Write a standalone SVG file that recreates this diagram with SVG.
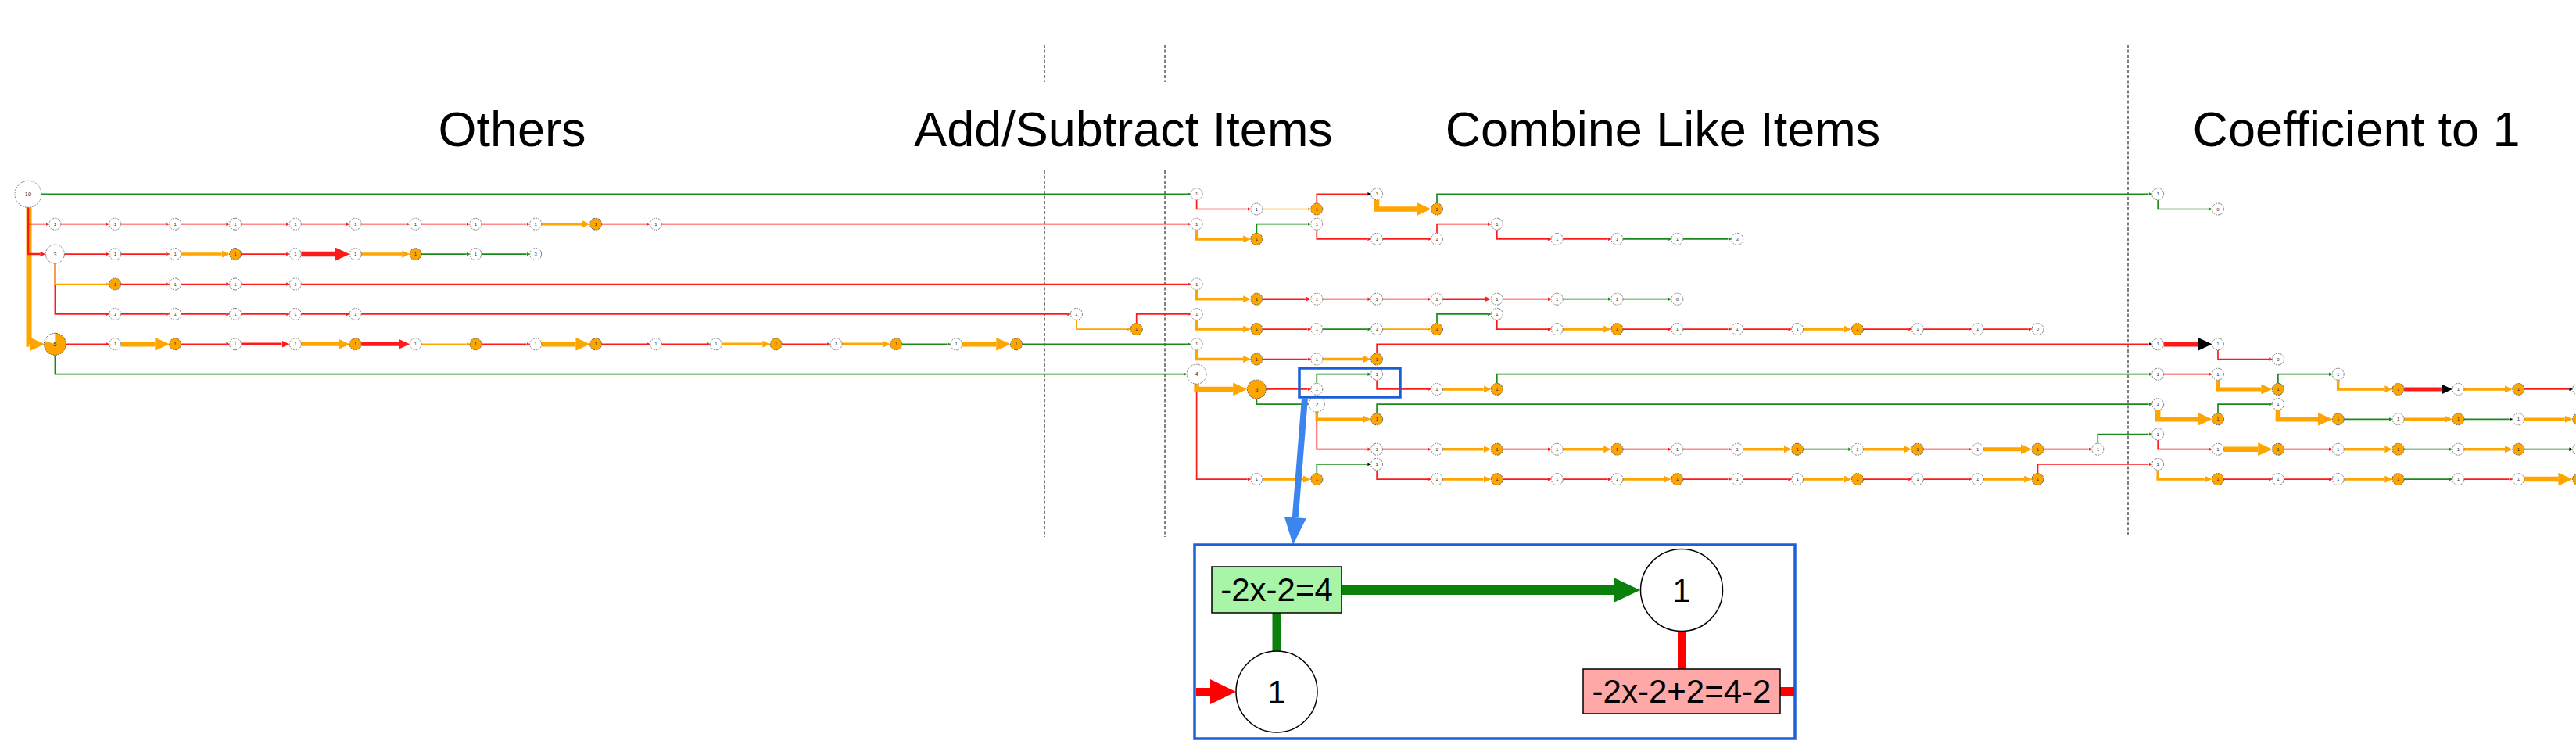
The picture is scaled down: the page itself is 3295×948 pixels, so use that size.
<svg xmlns="http://www.w3.org/2000/svg" width="3295" height="948" viewBox="0 0 3295 948">
<style>
.e path{fill:none}
.r{stroke:#ff1a1a;marker-end:url(#aR)}
.g{stroke:#1a8a1a;marker-end:url(#aG)}
.o{stroke:#ffa500;marker-end:url(#aO)}
.rk{stroke:#ff1a1a;marker-end:url(#aK)}
.gk{stroke:#1a8a1a;marker-end:url(#aK)}
.w1{stroke-width:1.7}.w2{stroke-width:2.5}.w3{stroke-width:3.5}.w5{stroke-width:5}.w6{stroke-width:6.5}.w7{stroke-width:7}
.nw circle{fill:#fff;stroke:#7a7a7a;stroke-width:1;stroke-dasharray:2 1.2}
.no circle{fill:#ffa500;stroke:#5a5a5a;stroke-width:1;stroke-dasharray:2 1.2}
.nw text,.no text{font-family:"Liberation Sans",Arial,sans-serif;font-size:6px;text-anchor:middle;fill:#333}
text.b{font-size:7.5px}
.title{font-family:"Liberation Sans",Arial,sans-serif;font-size:63px;text-anchor:middle;fill:#000}
.dash{stroke:#555;stroke-width:1.5;stroke-dasharray:4 2.5;fill:none}
.ins{font-family:"Liberation Sans",Arial,sans-serif;font-size:42px;text-anchor:middle;fill:#000}
</style>
<defs>
<marker id="aR" viewBox="0 0 2.8 2.6" refX="0" refY="1.3" markerWidth="2.8" markerHeight="2.6" orient="auto"><path d="M0,0L2.8,1.3L0,2.6Z" fill="#ff1a1a"/></marker>
<marker id="aG" viewBox="0 0 2.8 2.6" refX="0" refY="1.3" markerWidth="2.8" markerHeight="2.6" orient="auto"><path d="M0,0L2.8,1.3L0,2.6Z" fill="#1a8a1a"/></marker>
<marker id="aO" viewBox="0 0 2.8 2.6" refX="0" refY="1.3" markerWidth="2.8" markerHeight="2.6" orient="auto"><path d="M0,0L2.8,1.3L0,2.6Z" fill="#ffa500"/></marker>
<marker id="aK" viewBox="0 0 2.8 2.6" refX="0" refY="1.3" markerWidth="2.8" markerHeight="2.6" orient="auto"><path d="M0,0L2.8,1.3L0,2.6Z" fill="#000"/></marker>
</defs>
<rect width="3295" height="948" fill="#fff"/>

<g id="titles">
<text class="title" x="655" y="187">Others</text>
<text class="title" x="1437" y="187">Add/Subtract Items</text>
<text class="title" x="2127" y="187">Combine Like Items</text>
<text class="title" x="3014" y="187">Coefficient to 1</text>
</g>
<g id="separators">
<path class="dash" d="M1336,57V105M1336,218V687M1490,57V105M1490,218V687M2722,57V687"/>
</g>

<g id="connectors" class="e">
<path class="o w7" d="M37,265.3V440.3H37.5"/>
<path class="r w2" d="M36,265.3V325.1H51.4"/>
<path class="r w1" d="M36,265.3V286.7H58.7"/>
<path class="g w1" d="M53,248.3H1518.9"/>
<path class="r w1" d="M77.9,286.7H135.6"/>
<path class="r w1" d="M154.8,286.7H212.4"/>
<path class="r w1" d="M231.6,286.7H289.3"/>
<path class="r w1" d="M308.5,286.7H366.1"/>
<path class="r w1" d="M385.3,286.7H443"/>
<path class="r w1" d="M462.2,286.7H519.8"/>
<path class="r w1" d="M539,286.7H596.7"/>
<path class="r w1" d="M615.9,286.7H673.5"/>
<path class="o w3" d="M692.7,286.7H744.8"/>
<path class="r w1" d="M769.6,286.7H827.2"/>
<path class="r w1" d="M846.4,286.7H1518.9"/>
<path class="r w1" d="M82.4,325.1H135.6"/>
<path class="r w1" d="M154.8,325.1H212.4"/>
<path class="o w3" d="M231.6,325.1H283.7"/>
<path class="r w1" d="M308.5,325.1H366.1"/>
<path class="r w6" d="M385.3,325.1H429"/>
<path class="o w3" d="M462.2,325.1H514.2"/>
<path class="g w1" d="M539,325.1H596.7"/>
<path class="g w1" d="M615.9,325.1H673.5"/>
<path class="r w1" d="M70.4,337.1V401.9H135.6"/>
<path class="o w1" d="M70.4,337.1V363.5H135.6"/>
<path class="r w1" d="M154.8,363.5H212.4"/>
<path class="r w1" d="M231.6,363.5H289.3"/>
<path class="r w1" d="M308.5,363.5H366.1"/>
<path class="r w1" d="M385.3,363.5H1518.9"/>
<path class="r w1" d="M154.8,401.9H212.4"/>
<path class="r w1" d="M231.6,401.9H289.3"/>
<path class="r w1" d="M308.5,401.9H366.1"/>
<path class="r w1" d="M385.3,401.9H443"/>
<path class="r w1" d="M462.2,401.9H1365.2"/>
<path class="o w1" d="M1376.9,409.4V421.1H1442"/>
<path class="r w1" d="M1453.7,413.6V401.9H1518.9"/>
<path class="r w1" d="M84.4,440.3H135.6"/>
<path class="o w6" d="M154.8,440.3H198.4"/>
<path class="r w1" d="M231.6,440.3H289.3"/>
<path class="r w3" d="M308.5,440.3H360.5"/>
<path class="o w5" d="M385.3,440.3H433.2"/>
<path class="r w5" d="M462.2,440.3H510"/>
<path class="o w1" d="M539,440.3H596.7"/>
<path class="r w1" d="M615.9,440.3H673.5"/>
<path class="o w6" d="M692.7,440.3H736.4"/>
<path class="r w1" d="M769.6,440.3H827.2"/>
<path class="r w1" d="M846.4,440.3H904.1"/>
<path class="o w3" d="M923.3,440.3H975.3"/>
<path class="r w1" d="M1000.1,440.3H1057.8"/>
<path class="o w3" d="M1077,440.3H1129"/>
<path class="g w1" d="M1153.8,440.3H1211.5"/>
<path class="o w6" d="M1230.7,440.3H1274.3"/>
<path class="g w1" d="M1307.5,440.3H1518.9"/>
<path class="g w1" d="M70.4,454.3V478.7H1513.9"/>

<path class="r w1" d="M1530.6,255.8V267.5H1595.7"/>
<path class="o w1" d="M1614.9,267.5H1672.6"/>
<path class="rk w1" d="M1684.3,260V248.3H1749.4"/>
<path class="o w6" d="M1761.1,255.8V267.5H1812.3"/>
<path class="g w1" d="M1838,260V248.3H2748.5"/>
<path class="g w1" d="M2760.2,255.8V267.5H2825.3"/>

<path class="o w3" d="M1530.6,294.2V305.9H1590.1"/>
<path class="g w1" d="M1607.4,298.4V286.7H1672.6"/>
<path class="r w1" d="M1684.3,294.2V305.9H1749.4"/>
<path class="r w1" d="M1768.6,305.9H1826.3"/>
<path class="r w1" d="M1838,298.4V286.7H1903.1"/>
<path class="r w1" d="M1914.8,294.2V305.9H1980"/>
<path class="r w1" d="M1999.2,305.9H2056.8"/>
<path class="g w1" d="M2076,305.9H2133.7"/>
<path class="g w1" d="M2152.9,305.9H2210.5"/>

<path class="o w3" d="M1530.6,371V382.7H1590.1"/>
<path class="r w2" d="M1614.9,382.7H1669.8"/>
<path class="r w1" d="M1691.8,382.7H1749.4"/>
<path class="r w1" d="M1768.6,382.7H1826.3"/>
<path class="r w2" d="M1845.5,382.7H1899.8"/>
<path class="r w1" d="M1922.3,382.7H1980"/>
<path class="g w1" d="M1999.2,382.7H2056.8"/>
<path class="g w1" d="M2076,382.7H2133.7"/>

<path class="o w3" d="M1530.6,409.4V421.1H1590.1"/>
<path class="r w1" d="M1614.9,421.1H1672.6"/>
<path class="g w1" d="M1691.8,421.1H1749.4"/>
<path class="o w1" d="M1768.6,421.1H1826.3"/>
<path class="g w1" d="M1838,413.6V401.9H1903.1"/>
<path class="r w1" d="M1914.8,409.4V421.1H1980"/>
<path class="o w3" d="M1999.2,421.1H2051.2"/>
<path class="r w1" d="M2076,421.1H2133.7"/>
<path class="r w1" d="M2152.9,421.1H2210.5"/>
<path class="r w1" d="M2229.7,421.1H2287.4"/>
<path class="o w3" d="M2306.6,421.1H2358.6"/>
<path class="r w1" d="M2383.4,421.1H2441.1"/>
<path class="r w1" d="M2460.3,421.1H2517.9"/>
<path class="r w1" d="M2537.1,421.1H2594.8"/>

<path class="o w3" d="M1530.6,447.8V459.5H1590.1"/>
<path class="r w1" d="M1614.9,459.5H1672.6"/>
<path class="o w3" d="M1691.8,459.5H1743.8"/>
<path class="rk w1" d="M1761.1,452V440.3H2748.5"/>
<path class="rk w6" d="M2767.7,440.3H2811.3"/>
<path class="r w1" d="M2837,447.8V459.5H2902.2"/>

<path class="r w1" d="M1530.6,491.2V613.1H1595.7"/>
<path class="o w6" d="M1530.6,491.2V497.9H1577.2"/>
<path class="r w1" d="M1619.4,497.9H1672.6"/>
<path class="g w1" d="M1607.4,509.9V517.1H1670.1"/>
<path class="g w1" d="M1684.3,490.4V478.7H1749.4"/>
<path class="r w1" d="M1761.1,486.2V497.9H1826.3"/>
<path class="o w3" d="M1845.5,497.9H1897.5"/>
<path class="g w1" d="M1914.8,490.4V478.7H2748.5"/>
<path class="r w1" d="M2767.7,478.7H2825.3"/>
<path class="o w5" d="M2837,486.2V497.9H2892.4"/>
<path class="g w1" d="M2913.9,490.4V478.7H2979"/>
<path class="o w3" d="M2990.7,486.2V497.9H3050.3"/>
<path class="rk w5" d="M3075.1,497.9H3122.9"/>
<path class="o w3" d="M3151.9,497.9H3204"/>
<path class="rk w1" d="M3228.8,497.9H3286.4"/>

<path class="r w1" d="M1684.3,527.1V574.7H1749.4"/>
<path class="o w3" d="M1684.3,527.1V536.3H1743.8"/>
<path class="g w1" d="M1761.1,528.8V517.1H2748.5"/>
<path class="o w6" d="M2760.2,524.6V536.3H2811.3"/>
<path class="g w1" d="M2837,528.8V517.1H2902.2"/>
<path class="o w6" d="M2913.9,524.6V536.3H2965"/>
<path class="g w1" d="M2998.2,536.3H3055.9"/>
<path class="o w3" d="M3075.1,536.3H3127.1"/>
<path class="gk w1" d="M3151.9,536.3H3209.6"/>
<path class="o w3" d="M3228.8,536.3H3280.8"/>

<path class="r w1" d="M1768.6,574.7H1826.3"/>
<path class="o w3" d="M1845.5,574.7H1897.5"/>
<path class="r w1" d="M1922.3,574.7H1980"/>
<path class="o w3" d="M1999.2,574.7H2051.2"/>
<path class="r w1" d="M2076,574.7H2133.7"/>
<path class="r w1" d="M2152.9,574.7H2210.5"/>
<path class="o w3" d="M2229.7,574.7H2281.8"/>
<path class="g w1" d="M2306.6,574.7H2364.2"/>
<path class="o w3" d="M2383.4,574.7H2435.5"/>
<path class="r w1" d="M2460.3,574.7H2517.9"/>
<path class="o w5" d="M2537.1,574.7H2585"/>
<path class="r w1" d="M2614,574.7H2671.6"/>
<path class="g w1" d="M2683.3,567.2V555.5H2748.5"/>
<path class="r w1" d="M2760.2,563V574.7H2825.3"/>
<path class="o w6" d="M2844.5,574.7H2888.2"/>
<path class="r w1" d="M2921.4,574.7H2979"/>
<path class="o w3" d="M2998.2,574.7H3050.3"/>
<path class="g w1" d="M3075.1,574.7H3132.7"/>
<path class="o w3" d="M3151.9,574.7H3204"/>
<path class="gk w1" d="M3228.8,574.7H3286.4"/>

<path class="o w3" d="M1614.9,613.1H1667"/>
<path class="gk w1" d="M1684.3,605.6V593.9H1749.4"/>
<path class="r w1" d="M1761.1,601.4V613.1H1826.3"/>
<path class="o w3" d="M1845.5,613.1H1897.5"/>
<path class="r w1" d="M1922.3,613.1H1980"/>
<path class="r w1" d="M1999.2,613.1H2056.8"/>
<path class="o w3" d="M2076,613.1H2128.1"/>
<path class="r w1" d="M2152.9,613.1H2210.5"/>
<path class="r w1" d="M2229.7,613.1H2287.4"/>
<path class="o w3" d="M2306.6,613.1H2358.6"/>
<path class="r w1" d="M2383.4,613.1H2441.1"/>
<path class="r w1" d="M2460.3,613.1H2517.9"/>
<path class="o w3" d="M2537.1,613.1H2589.2"/>
<path class="r w1" d="M2606.5,605.6V593.9H2748.5"/>
<path class="o w3" d="M2760.2,601.4V613.1H2819.7"/>
<path class="r w1" d="M2844.5,613.1H2902.2"/>
<path class="r w1" d="M2921.4,613.1H2979"/>
<path class="o w3" d="M2998.2,613.1H3050.3"/>
<path class="g w1" d="M3075.1,613.1H3132.7"/>
<path class="r w1" d="M3151.9,613.1H3209.6"/>
<path class="o w6" d="M3228.8,613.1H3272.4"/>
</g>

<g id="nodes">
<g id="n_root" class="nw"><circle cx="36" cy="248.3" r="17"/><text class="b" x="36" y="251">10</text></g>
<g id="n0_2" class="nw"><circle cx="70.4" cy="286.7" r="7.5"/><text x="70.4" y="288.8">1</text></g>
<g id="n1_2" class="nw"><circle cx="147.3" cy="286.7" r="7.5"/><text x="147.3" y="288.8">1</text></g>
<g id="n2_2" class="nw"><circle cx="224.1" cy="286.7" r="7.5"/><text x="224.1" y="288.8">1</text></g>
<g id="n3_2" class="nw"><circle cx="301" cy="286.7" r="7.5"/><text x="301" y="288.8">1</text></g>
<g id="n4_2" class="nw"><circle cx="377.8" cy="286.7" r="7.5"/><text x="377.8" y="288.8">1</text></g>
<g id="n5_2" class="nw"><circle cx="454.7" cy="286.7" r="7.5"/><text x="454.7" y="288.8">1</text></g>
<g id="n6_2" class="nw"><circle cx="531.5" cy="286.7" r="7.5"/><text x="531.5" y="288.8">1</text></g>
<g id="n7_2" class="nw"><circle cx="608.4" cy="286.7" r="7.5"/><text x="608.4" y="288.8">1</text></g>
<g id="n8_2" class="nw"><circle cx="685.2" cy="286.7" r="7.5"/><text x="685.2" y="288.8">1</text></g>
<g id="n9_2" class="no"><circle cx="762.1" cy="286.7" r="7.5"/><text x="762.1" y="288.8">1</text></g>
<g id="n10_2" class="nw"><circle cx="838.9" cy="286.7" r="7.5"/><text x="838.9" y="288.8">1</text></g>

<g id="n0_4" class="nw"><circle cx="70.4" cy="325.1" r="12"/><text class="b" x="70.4" y="327.8">3</text></g>
<g id="n1_4" class="nw"><circle cx="147.3" cy="325.1" r="7.5"/><text x="147.3" y="327.2">1</text></g>
<g id="n2_4" class="nw"><circle cx="224.1" cy="325.1" r="7.5"/><text x="224.1" y="327.2">1</text></g>
<g id="n3_4" class="no"><circle cx="301" cy="325.1" r="7.5"/><text x="301" y="327.2">1</text></g>
<g id="n4_4" class="nw"><circle cx="377.8" cy="325.1" r="7.5"/><text x="377.8" y="327.2">1</text></g>
<g id="n5_4" class="nw"><circle cx="454.7" cy="325.1" r="7.5"/><text x="454.7" y="327.2">1</text></g>
<g id="n6_4" class="no"><circle cx="531.5" cy="325.1" r="7.5"/><text x="531.5" y="327.2">1</text></g>
<g id="n7_4" class="nw"><circle cx="608.4" cy="325.1" r="7.5"/><text x="608.4" y="327.2">1</text></g>
<g id="n8_4" class="nw"><circle cx="685.2" cy="325.1" r="7.5"/><text x="685.2" y="327.2">3</text></g>

<g id="n1_6" class="no"><circle cx="147.3" cy="363.5" r="7.5"/><text x="147.3" y="365.6">1</text></g>
<g id="n2_6" class="nw"><circle cx="224.1" cy="363.5" r="7.5"/><text x="224.1" y="365.6">1</text></g>
<g id="n3_6" class="nw"><circle cx="301" cy="363.5" r="7.5"/><text x="301" y="365.6">1</text></g>
<g id="n4_6" class="nw"><circle cx="377.8" cy="363.5" r="7.5"/><text x="377.8" y="365.6">1</text></g>

<g id="n1_8" class="nw"><circle cx="147.3" cy="401.9" r="7.5"/><text x="147.3" y="404">1</text></g>
<g id="n2_8" class="nw"><circle cx="224.1" cy="401.9" r="7.5"/><text x="224.1" y="404">1</text></g>
<g id="n3_8" class="nw"><circle cx="301" cy="401.9" r="7.5"/><text x="301" y="404">1</text></g>
<g id="n4_8" class="nw"><circle cx="377.8" cy="401.9" r="7.5"/><text x="377.8" y="404">1</text></g>
<g id="n5_8" class="nw"><circle cx="454.7" cy="401.9" r="7.5"/><text x="454.7" y="404">1</text></g>

<g id="n0_10" class="no"><circle cx="70.4" cy="440.3" r="14" style="stroke:none"/><path d="M70.4,440.3V426.3A14,14 0 0 0 57.1,436Z" fill="#fff"/><circle cx="70.4" cy="440.3" r="14" style="fill:none"/><text class="b" x="70.4" y="443">5</text></g>
<g id="n1_10" class="nw"><circle cx="147.3" cy="440.3" r="7.5"/><text x="147.3" y="442.4">1</text></g>
<g id="n2_10" class="no"><circle cx="224.1" cy="440.3" r="7.5"/><text x="224.1" y="442.4">1</text></g>
<g id="n3_10" class="nw"><circle cx="301" cy="440.3" r="7.5"/><text x="301" y="442.4">1</text></g>
<g id="n4_10" class="nw"><circle cx="377.8" cy="440.3" r="7.5"/><text x="377.8" y="442.4">1</text></g>
<g id="n5_10" class="no"><circle cx="454.7" cy="440.3" r="7.5"/><text x="454.7" y="442.4">1</text></g>
<g id="n6_10" class="nw"><circle cx="531.5" cy="440.3" r="7.5"/><text x="531.5" y="442.4">1</text></g>
<g id="n7_10" class="no"><circle cx="608.4" cy="440.3" r="7.5"/><text x="608.4" y="442.4">1</text></g>
<g id="n8_10" class="nw"><circle cx="685.2" cy="440.3" r="7.5"/><text x="685.2" y="442.4">1</text></g>
<g id="n9_10" class="no"><circle cx="762.1" cy="440.3" r="7.5"/><text x="762.1" y="442.4">1</text></g>
<g id="n10_10" class="nw"><circle cx="838.9" cy="440.3" r="7.5"/><text x="838.9" y="442.4">1</text></g>
<g id="n11_10" class="nw"><circle cx="915.8" cy="440.3" r="7.5"/><text x="915.8" y="442.4">1</text></g>
<g id="n12_10" class="no"><circle cx="992.6" cy="440.3" r="7.5"/><text x="992.6" y="442.4">1</text></g>
<g id="n13_10" class="nw"><circle cx="1069.5" cy="440.3" r="7.5"/><text x="1069.5" y="442.4">1</text></g>
<g id="n14_10" class="no"><circle cx="1146.3" cy="440.3" r="7.5"/><text x="1146.3" y="442.4">1</text></g>
<g id="n15_10" class="nw"><circle cx="1223.2" cy="440.3" r="7.5"/><text x="1223.2" y="442.4">1</text></g>
<g id="n16_10" class="no"><circle cx="1300" cy="440.3" r="7.5"/><text x="1300" y="442.4">1</text></g>
<g id="n17_8" class="nw"><circle cx="1376.9" cy="401.9" r="7.5"/><text x="1376.9" y="404">1</text></g>
<g id="n18_9" class="no"><circle cx="1453.7" cy="421.1" r="7.5"/><text x="1453.7" y="423.2">1</text></g>

<g id="n19_0" class="nw"><circle cx="1530.6" cy="248.3" r="7.5"/><text x="1530.6" y="250.4">1</text></g>
<g id="n20_1" class="nw"><circle cx="1607.4" cy="267.5" r="7.5"/><text x="1607.4" y="269.6">1</text></g>
<g id="n21_1" class="no"><circle cx="1684.3" cy="267.5" r="7.5"/><text x="1684.3" y="269.6">1</text></g>
<g id="n22_0" class="nw"><circle cx="1761.1" cy="248.3" r="7.5"/><text x="1761.1" y="250.4">1</text></g>
<g id="n23_1" class="no"><circle cx="1838" cy="267.5" r="7.5"/><text x="1838" y="269.6">1</text></g>
<g id="n35_0" class="nw"><circle cx="2760.2" cy="248.3" r="7.5"/><text x="2760.2" y="250.4">1</text></g>
<g id="n36_1" class="nw"><circle cx="2837" cy="267.5" r="7.5"/><text x="2837" y="269.6">0</text></g>

<g id="n19_2" class="nw"><circle cx="1530.6" cy="286.7" r="7.5"/><text x="1530.6" y="288.8">1</text></g>
<g id="n20_3" class="no"><circle cx="1607.4" cy="305.9" r="7.5"/><text x="1607.4" y="308">1</text></g>
<g id="n21_2" class="nw"><circle cx="1684.3" cy="286.7" r="7.5"/><text x="1684.3" y="288.8">1</text></g>
<g id="n22_3" class="nw"><circle cx="1761.1" cy="305.9" r="7.5"/><text x="1761.1" y="308">1</text></g>
<g id="n23_3" class="nw"><circle cx="1838" cy="305.9" r="7.5"/><text x="1838" y="308">1</text></g>
<g id="n24_2" class="nw"><circle cx="1914.8" cy="286.7" r="7.5"/><text x="1914.8" y="288.8">1</text></g>
<g id="n25_3" class="nw"><circle cx="1991.7" cy="305.9" r="7.5"/><text x="1991.7" y="308">1</text></g>
<g id="n26_3" class="nw"><circle cx="2068.5" cy="305.9" r="7.5"/><text x="2068.5" y="308">1</text></g>
<g id="n27_3" class="nw"><circle cx="2145.4" cy="305.9" r="7.5"/><text x="2145.4" y="308">1</text></g>
<g id="n28_3" class="nw"><circle cx="2222.2" cy="305.9" r="7.5"/><text x="2222.2" y="308">3</text></g>

<g id="n19_6" class="nw"><circle cx="1530.6" cy="363.5" r="7.5"/><text x="1530.6" y="365.6">1</text></g>
<g id="n20_7" class="no"><circle cx="1607.4" cy="382.7" r="7.5"/><text x="1607.4" y="384.8">1</text></g>
<g id="n21_7" class="nw"><circle cx="1684.3" cy="382.7" r="7.5"/><text x="1684.3" y="384.8">1</text></g>
<g id="n22_7" class="nw"><circle cx="1761.1" cy="382.7" r="7.5"/><text x="1761.1" y="384.8">1</text></g>
<g id="n23_7" class="nw"><circle cx="1838" cy="382.7" r="7.5"/><text x="1838" y="384.8">1</text></g>
<g id="n24_7" class="nw"><circle cx="1914.8" cy="382.7" r="7.5"/><text x="1914.8" y="384.8">1</text></g>
<g id="n25_7" class="nw"><circle cx="1991.7" cy="382.7" r="7.5"/><text x="1991.7" y="384.8">1</text></g>
<g id="n26_7" class="nw"><circle cx="2068.5" cy="382.7" r="7.5"/><text x="2068.5" y="384.8">1</text></g>
<g id="n27_7" class="nw"><circle cx="2145.4" cy="382.7" r="7.5"/><text x="2145.4" y="384.8">0</text></g>

<g id="n19_8" class="nw"><circle cx="1530.6" cy="401.9" r="7.5"/><text x="1530.6" y="404">1</text></g>
<g id="n20_9" class="no"><circle cx="1607.4" cy="421.1" r="7.5"/><text x="1607.4" y="423.2">1</text></g>
<g id="n21_9" class="nw"><circle cx="1684.3" cy="421.1" r="7.5"/><text x="1684.3" y="423.2">1</text></g>
<g id="n22_9" class="nw"><circle cx="1761.1" cy="421.1" r="7.5"/><text x="1761.1" y="423.2">1</text></g>
<g id="n23_9" class="no"><circle cx="1838" cy="421.1" r="7.5"/><text x="1838" y="423.2">1</text></g>
<g id="n24_8" class="nw"><circle cx="1914.8" cy="401.9" r="7.5"/><text x="1914.8" y="404">1</text></g>
<g id="n25_9" class="nw"><circle cx="1991.7" cy="421.1" r="7.5"/><text x="1991.7" y="423.2">1</text></g>
<g id="n26_9" class="no"><circle cx="2068.5" cy="421.1" r="7.5"/><text x="2068.5" y="423.2">1</text></g>
<g id="n27_9" class="nw"><circle cx="2145.4" cy="421.1" r="7.5"/><text x="2145.4" y="423.2">1</text></g>
<g id="n28_9" class="nw"><circle cx="2222.2" cy="421.1" r="7.5"/><text x="2222.2" y="423.2">1</text></g>
<g id="n29_9" class="nw"><circle cx="2299.1" cy="421.1" r="7.5"/><text x="2299.1" y="423.2">1</text></g>
<g id="n30_9" class="no"><circle cx="2375.9" cy="421.1" r="7.5"/><text x="2375.9" y="423.2">1</text></g>
<g id="n31_9" class="nw"><circle cx="2452.8" cy="421.1" r="7.5"/><text x="2452.8" y="423.2">1</text></g>
<g id="n32_9" class="nw"><circle cx="2529.6" cy="421.1" r="7.5"/><text x="2529.6" y="423.2">1</text></g>
<g id="n33_9" class="nw"><circle cx="2606.5" cy="421.1" r="7.5"/><text x="2606.5" y="423.2">0</text></g>

<g id="n19_10" class="nw"><circle cx="1530.6" cy="440.3" r="7.5"/><text x="1530.6" y="442.4">1</text></g>
<g id="n20_11" class="no"><circle cx="1607.4" cy="459.5" r="7.5"/><text x="1607.4" y="461.6">1</text></g>
<g id="n21_11" class="nw"><circle cx="1684.3" cy="459.5" r="7.5"/><text x="1684.3" y="461.6">1</text></g>
<g id="n22_11" class="no"><circle cx="1761.1" cy="459.5" r="7.5"/><text x="1761.1" y="461.6">1</text></g>
<g id="n35_10" class="nw"><circle cx="2760.2" cy="440.3" r="7.5"/><text x="2760.2" y="442.4">1</text></g>
<g id="n36_10" class="nw"><circle cx="2837" cy="440.3" r="7.5"/><text x="2837" y="442.4">1</text></g>
<g id="n37_11" class="nw"><circle cx="2913.9" cy="459.5" r="7.5"/><text x="2913.9" y="461.6">0</text></g>

<g id="n19_12" class="nw"><circle cx="1530.6" cy="478.7" r="12.5"/><text class="b" x="1530.6" y="481.4">4</text></g>
<g id="n20_13" class="no"><circle cx="1607.4" cy="497.9" r="12"/><text class="b" x="1607.4" y="500.6">3</text></g>
<g id="n21_13" class="nw"><circle cx="1684.3" cy="497.9" r="7.5"/><text x="1684.3" y="500">1</text></g>
<g id="n22_12" class="nw"><circle cx="1761.1" cy="478.7" r="7.5"/><text x="1761.1" y="480.8">1</text></g>
<g id="n23_13" class="nw"><circle cx="1838" cy="497.9" r="7.5"/><text x="1838" y="500">1</text></g>
<g id="n24_13" class="no"><circle cx="1914.8" cy="497.9" r="7.5"/><text x="1914.8" y="500">1</text></g>
<g id="n35_12" class="nw"><circle cx="2760.2" cy="478.7" r="7.5"/><text x="2760.2" y="480.8">1</text></g>
<g id="n36_12" class="nw"><circle cx="2837" cy="478.7" r="7.5"/><text x="2837" y="480.8">1</text></g>
<g id="n37_13" class="no"><circle cx="2913.9" cy="497.9" r="7.5"/><text x="2913.9" y="500">1</text></g>
<g id="n38_12" class="nw"><circle cx="2990.7" cy="478.7" r="7.5"/><text x="2990.7" y="480.8">1</text></g>
<g id="n39_13" class="no"><circle cx="3067.6" cy="497.9" r="7.5"/><text x="3067.6" y="500">1</text></g>
<g id="n40_13" class="nw"><circle cx="3144.4" cy="497.9" r="7.5"/><text x="3144.4" y="500">1</text></g>
<g id="n41_13" class="no"><circle cx="3221.3" cy="497.9" r="7.5"/><text x="3221.3" y="500">1</text></g>
<g id="n42_13" class="nw"><circle cx="3298.1" cy="497.9" r="7.5"/></g>

<g id="n21_14" class="nw"><circle cx="1684.3" cy="517.1" r="10"/><text class="b" x="1684.3" y="519.8">2</text></g>
<g id="n22_15" class="no"><circle cx="1761.1" cy="536.3" r="7.5"/><text x="1761.1" y="538.4">1</text></g>
<g id="n35_14" class="nw"><circle cx="2760.2" cy="517.1" r="7.5"/><text x="2760.2" y="519.2">1</text></g>
<g id="n36_15" class="no"><circle cx="2837" cy="536.3" r="7.5"/><text x="2837" y="538.4">1</text></g>
<g id="n37_14" class="nw"><circle cx="2913.9" cy="517.1" r="7.5"/><text x="2913.9" y="519.2">1</text></g>
<g id="n38_15" class="no"><circle cx="2990.7" cy="536.3" r="7.5"/><text x="2990.7" y="538.4">1</text></g>
<g id="n39_15" class="nw"><circle cx="3067.6" cy="536.3" r="7.5"/><text x="3067.6" y="538.4">1</text></g>
<g id="n40_15" class="no"><circle cx="3144.4" cy="536.3" r="7.5"/><text x="3144.4" y="538.4">1</text></g>
<g id="n41_15" class="nw"><circle cx="3221.3" cy="536.3" r="7.5"/><text x="3221.3" y="538.4">1</text></g>
<g id="n42_15" class="no"><circle cx="3298.1" cy="536.3" r="7.5"/></g>

<g id="n22_17" class="nw"><circle cx="1761.1" cy="574.7" r="7.5"/><text x="1761.1" y="576.8">1</text></g>
<g id="n23_17" class="nw"><circle cx="1838" cy="574.7" r="7.5"/><text x="1838" y="576.8">1</text></g>
<g id="n24_17" class="no"><circle cx="1914.8" cy="574.7" r="7.5"/><text x="1914.8" y="576.8">1</text></g>
<g id="n25_17" class="nw"><circle cx="1991.7" cy="574.7" r="7.5"/><text x="1991.7" y="576.8">1</text></g>
<g id="n26_17" class="no"><circle cx="2068.5" cy="574.7" r="7.5"/><text x="2068.5" y="576.8">1</text></g>
<g id="n27_17" class="nw"><circle cx="2145.4" cy="574.7" r="7.5"/><text x="2145.4" y="576.8">1</text></g>
<g id="n28_17" class="nw"><circle cx="2222.2" cy="574.7" r="7.5"/><text x="2222.2" y="576.8">1</text></g>
<g id="n29_17" class="no"><circle cx="2299.1" cy="574.7" r="7.5"/><text x="2299.1" y="576.8">1</text></g>
<g id="n30_17" class="nw"><circle cx="2375.9" cy="574.7" r="7.5"/><text x="2375.9" y="576.8">1</text></g>
<g id="n31_17" class="no"><circle cx="2452.8" cy="574.7" r="7.5"/><text x="2452.8" y="576.8">1</text></g>
<g id="n32_17" class="nw"><circle cx="2529.6" cy="574.7" r="7.5"/><text x="2529.6" y="576.8">1</text></g>
<g id="n33_17" class="no"><circle cx="2606.5" cy="574.7" r="7.5"/><text x="2606.5" y="576.8">1</text></g>
<g id="n34_17" class="nw"><circle cx="2683.3" cy="574.7" r="7.5"/><text x="2683.3" y="576.8">1</text></g>
<g id="n35_16" class="nw"><circle cx="2760.2" cy="555.5" r="7.5"/><text x="2760.2" y="557.6">1</text></g>
<g id="n36_17" class="nw"><circle cx="2837" cy="574.7" r="7.5"/><text x="2837" y="576.8">1</text></g>
<g id="n37_17" class="no"><circle cx="2913.9" cy="574.7" r="7.5"/><text x="2913.9" y="576.8">1</text></g>
<g id="n38_17" class="nw"><circle cx="2990.7" cy="574.7" r="7.5"/><text x="2990.7" y="576.8">1</text></g>
<g id="n39_17" class="no"><circle cx="3067.6" cy="574.7" r="7.5"/><text x="3067.6" y="576.8">1</text></g>
<g id="n40_17" class="nw"><circle cx="3144.4" cy="574.7" r="7.5"/><text x="3144.4" y="576.8">1</text></g>
<g id="n41_17" class="no"><circle cx="3221.3" cy="574.7" r="7.5"/><text x="3221.3" y="576.8">1</text></g>
<g id="n42_17" class="nw"><circle cx="3298.1" cy="574.7" r="7.5"/></g>

<g id="n20_19" class="nw"><circle cx="1607.4" cy="613.1" r="7.5"/><text x="1607.4" y="615.2">1</text></g>
<g id="n21_19" class="no"><circle cx="1684.3" cy="613.1" r="7.5"/><text x="1684.3" y="615.2">1</text></g>
<g id="n22_18" class="nw"><circle cx="1761.1" cy="593.9" r="7.5"/><text x="1761.1" y="596">1</text></g>
<g id="n23_19" class="nw"><circle cx="1838" cy="613.1" r="7.5"/><text x="1838" y="615.2">1</text></g>
<g id="n24_19" class="no"><circle cx="1914.8" cy="613.1" r="7.5"/><text x="1914.8" y="615.2">1</text></g>
<g id="n25_19" class="nw"><circle cx="1991.7" cy="613.1" r="7.5"/><text x="1991.7" y="615.2">1</text></g>
<g id="n26_19" class="nw"><circle cx="2068.5" cy="613.1" r="7.5"/><text x="2068.5" y="615.2">1</text></g>
<g id="n27_19" class="no"><circle cx="2145.4" cy="613.1" r="7.5"/><text x="2145.4" y="615.2">1</text></g>
<g id="n28_19" class="nw"><circle cx="2222.2" cy="613.1" r="7.5"/><text x="2222.2" y="615.2">1</text></g>
<g id="n29_19" class="nw"><circle cx="2299.1" cy="613.1" r="7.5"/><text x="2299.1" y="615.2">1</text></g>
<g id="n30_19" class="no"><circle cx="2375.9" cy="613.1" r="7.5"/><text x="2375.9" y="615.2">1</text></g>
<g id="n31_19" class="nw"><circle cx="2452.8" cy="613.1" r="7.5"/><text x="2452.8" y="615.2">1</text></g>
<g id="n32_19" class="nw"><circle cx="2529.6" cy="613.1" r="7.5"/><text x="2529.6" y="615.2">1</text></g>
<g id="n33_19" class="no"><circle cx="2606.5" cy="613.1" r="7.5"/><text x="2606.5" y="615.2">1</text></g>
<g id="n35_18" class="nw"><circle cx="2760.2" cy="593.9" r="7.5"/><text x="2760.2" y="596">1</text></g>
<g id="n36_19" class="no"><circle cx="2837" cy="613.1" r="7.5"/><text x="2837" y="615.2">1</text></g>
<g id="n37_19" class="nw"><circle cx="2913.9" cy="613.1" r="7.5"/><text x="2913.9" y="615.2">1</text></g>
<g id="n38_19" class="nw"><circle cx="2990.7" cy="613.1" r="7.5"/><text x="2990.7" y="615.2">1</text></g>
<g id="n39_19" class="no"><circle cx="3067.6" cy="613.1" r="7.5"/><text x="3067.6" y="615.2">1</text></g>
<g id="n40_19" class="nw"><circle cx="3144.4" cy="613.1" r="7.5"/><text x="3144.4" y="615.2">1</text></g>
<g id="n41_19" class="nw"><circle cx="3221.3" cy="613.1" r="7.5"/><text x="3221.3" y="615.2">1</text></g>
<g id="n42_19" class="no"><circle cx="3298.1" cy="613.1" r="7.5"/></g>
</g>

<g id="highlight">
<rect x="1662" y="471" width="129" height="37" fill="none" stroke="#1a5fd6" stroke-width="3.5"/>
<line x1="1669" y1="509" x2="1656.8" y2="662" stroke="#3d85ee" stroke-width="8"/>
<polygon points="1670.8,663.2 1654,697 1642.8,660.9" fill="#3d85ee"/>
</g>

<g id="inset">
<rect x="1528" y="697" width="768" height="248" fill="#fff" stroke="#1f5fd8" stroke-width="3.5"/>
<line x1="1716" y1="755" x2="2066" y2="755" stroke="#0b800b" stroke-width="12"/>
<polygon points="2064,739 2098,755 2064,771" fill="#0b800b"/>
<line x1="1633" y1="784" x2="1633" y2="834" stroke="#0b800b" stroke-width="11"/>
<line x1="2151" y1="807" x2="2151" y2="856" stroke="#ff0000" stroke-width="10"/>
<line x1="2277" y1="885" x2="2295" y2="885" stroke="#ff0000" stroke-width="12"/>
<line x1="1530" y1="885" x2="1550" y2="885" stroke="#ff0000" stroke-width="10"/>
<polygon points="1548,869 1581,885 1548,901" fill="#ff0000"/>
<g id="inset_eq1">
<rect x="1550" y="725" width="166" height="59" fill="#a8f5a8" stroke="#000" stroke-width="1.5"/>
<text class="ins" x="1633" y="769">-2x-2=4</text>
</g>
<g id="inset_n1">
<circle cx="2151" cy="755" r="52.5" fill="#fff" stroke="#000" stroke-width="1.5"/>
<text class="ins" x="2151" y="770">1</text>
</g>
<g id="inset_eq2">
<rect x="2025" y="856" width="252" height="57" fill="#ffa8a8" stroke="#000" stroke-width="1.5"/>
<text class="ins" x="2151" y="899">-2x-2+2=4-2</text>
</g>
<g id="inset_n2">
<circle cx="1633" cy="885" r="52" fill="#fff" stroke="#000" stroke-width="1.5"/>
<text class="ins" x="1633" y="900">1</text>
</g>
</g>
</svg>
